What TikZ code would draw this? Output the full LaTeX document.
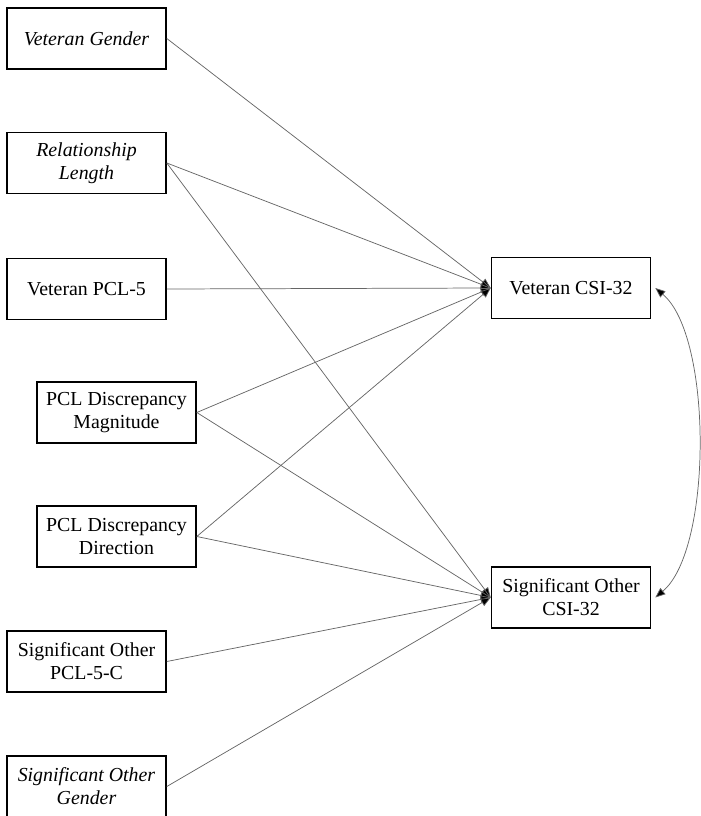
\documentclass[tikz,border=0pt]{standalone}
\usepackage{fontspec}
\setmainfont{Liberation Serif}
\usetikzlibrary{arrows.meta}
\tikzset{
  varbox/.style={draw=black,line width=1.2pt,minimum width=119.25pt,minimum height=45.75pt,
    inner sep=0pt,align=center,font=\fontsize{14.9}{17.2}\selectfont},
  path/.style={draw=black!60,line width=0.55pt,-{Triangle[length=7.5pt,width=6pt,fill=black]}},
}
\begin{document}
\begin{tikzpicture}[x=0.75pt,y=-0.75pt]
\useasboundingbox (0,0) rectangle (700,816);
% predictors
\node [varbox] (vgender) at (86.5,38.5) {\textit{Veteran Gender}};
\node [varbox] (rellen) at (86.5,163) {\textit{Relationship}\\\textit{Length}};
\node [varbox] (vpcl) at (86.5,289) {Veteran PCL-5};
\node [varbox] (pclmag) at (116.5,412.5) {PCL Discrepancy\\Magnitude};
\node [varbox] (pcldir) at (116.5,536.5) {PCL Discrepancy\\Direction};
\node [varbox] (sopcl) at (86.5,661.5) {Significant Other\\PCL-5-C};
\node [varbox] (sogender) at (86.5,786.5) {\textit{Significant Other}\\\textit{Gender}};
% outcomes
\node [varbox] (vcsi) at (571,288) {Veteran CSI-32};
\node [varbox] (socsi) at (571,597.5) {Significant Other\\CSI-32};
% paths
\draw [path] (vgender.east) -- (vcsi.west);
\draw [path] (rellen.east) -- (vcsi.west);
\draw [path] (rellen.east) -- (socsi.west);
\draw [path] (vpcl.east) -- (vcsi.west);
\draw [path] (pclmag.east) -- (vcsi.west);
\draw [path] (pclmag.east) -- (socsi.west);
\draw [path] (pcldir.east) -- (vcsi.west);
\draw [path] (pcldir.east) -- (socsi.west);
\draw [path] (sopcl.east) -- (socsi.west);
\draw [path] (sogender.east) -- (socsi.west);
% covariance
\draw [path,{Triangle[length=7.5pt,width=6pt,fill=black]}-{Triangle[length=7.5pt,width=6pt,fill=black]}]
  ([xshift=3pt]vcsi.east) to [out=-40,in=40,looseness=0.62] ([xshift=3pt]socsi.east);
\end{tikzpicture}
\end{document}
